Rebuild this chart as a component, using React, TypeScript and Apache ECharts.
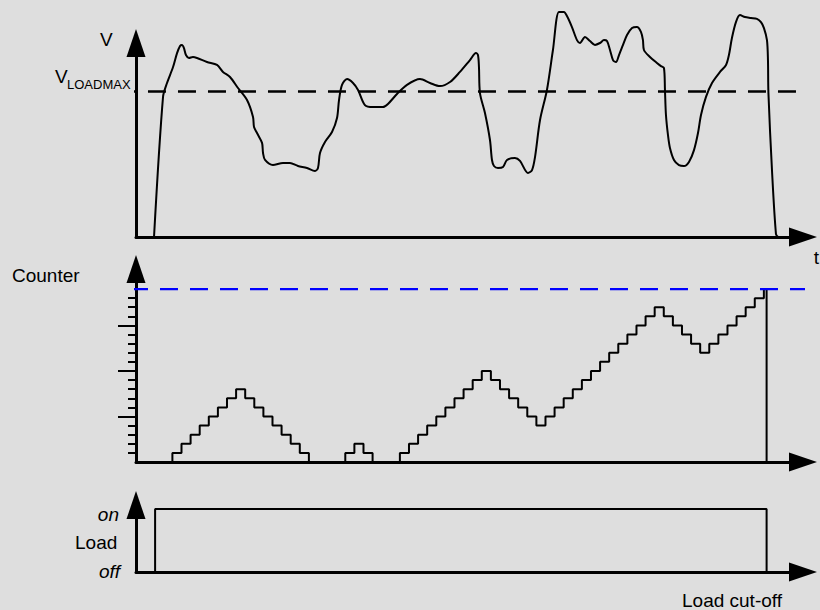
import React, { useEffect, useRef } from "react";
import * as echarts from "echarts";

// ---- data (time in counter-step units, voltage in arbitrary volts) ----
const T_END = 73.3;
const V_AXIS_MAX = 10;
const V_LOADMAX = 7.5;
const COUNTER_AXIS_MAX = 21.2;
const COUNTER_LIMIT = 19;
const LOAD_AXIS_MAX = 1.064;

const voltageTimes = [
  1.98, 2.97, 3.41, 4.07, 4.51, 4.84, 5.05, 5.27, 5.49, 5.82, 6.26, 6.7, 7.8, 8.9, 9.56, 10.33,
  11.21, 12.2, 12.86, 12.97, 13.3, 13.85, 13.96, 14.18, 15.05, 16.15, 16.92, 17.8, 18.79, 19.67,
  20.0, 20.22, 20.77, 21.54, 22.09, 22.31, 22.64, 23.19, 23.85, 24.4, 25.16, 26.04, 27.14, 27.69,
  28.68, 29.78, 31.21, 32.31, 33.41, 34.51, 35.6, 36.7, 37.36, 37.58, 37.69, 37.8, 38.35, 38.9,
  39.12, 39.34, 39.78, 40.33, 40.77, 41.65, 42.2, 43.08, 43.52, 43.85, 44.4, 45.16, 45.82, 46.48,
  47.03, 47.36, 47.91, 48.46, 48.79, 49.34, 49.89, 50.44, 50.99, 51.43, 51.76, 52.09, 52.42, 52.75,
  53.08, 53.52, 53.96, 54.51, 55.05, 55.49, 55.71, 55.82, 56.48, 57.25, 57.69, 58.02, 58.13, 58.24,
  58.46, 58.68, 59.12, 59.67, 60.22, 60.77, 61.32, 61.76, 62.09, 62.64, 63.3, 64.18, 64.84, 65.16,
  65.49, 65.93, 66.37, 66.92, 67.58, 68.24, 68.68, 69.01, 69.34, 69.45, 69.5, 69.89, 70.33, 70.55,
];
const voltageValues = [
  0, 7.22, 7.94, 8.76, 9.48, 9.85, 9.9, 9.74, 9.38, 9.23, 9.28, 9.23, 9.02, 8.87, 8.51, 8.25,
  7.68, 7.06, 6.19, 5.67, 5.36, 4.85, 4.33, 3.97, 3.71, 3.81, 3.81, 3.66, 3.56, 3.4,
  3.56, 4.33, 4.9, 5.41, 6.13, 7.06, 7.84, 8.14, 7.94, 7.58, 6.8, 6.7, 6.7, 6.86,
  7.37, 7.84, 8.14, 7.94, 7.78, 7.99, 8.51, 9.12, 9.48, 9.38, 8.76, 7.42, 6.39, 5.0,
  3.97, 3.66, 3.56, 3.61, 3.97, 4.07, 3.92, 3.3, 3.45, 4.12, 6.03, 7.58, 9.64, 11.6,
  11.6, 11.39, 10.82, 10.15, 10.0, 10.31, 10.1, 9.9, 10.0, 10.15, 10.1, 9.64, 9.12, 9.02,
  9.38, 9.9, 10.41, 10.77, 10.82, 10.57, 10.15, 9.64, 9.28, 8.97, 8.81, 8.71, 7.58, 6.29,
  5.26, 4.59, 3.97, 3.71, 3.66, 3.87, 4.48, 5.36, 6.29, 7.22, 7.94, 8.51, 8.87, 9.38,
  10.26, 11.08, 11.44, 11.34, 11.29, 11.24, 11.08, 10.77, 10.15, 9.12, 7.42, 3.45, 0.15, 0,
];

const counterTimes = [
  0, 4, 5, 6, 7, 8, 9, 10, 11, 12, 13, 14, 15, 16, 17, 18, 19,
  23, 24, 25, 26,
  29, 30, 31, 32, 33, 34, 35, 36, 37, 38, 39, 40, 41, 42, 43, 44,
  45, 46, 47, 48, 49, 50, 51, 52, 53, 54, 55, 56, 57, 58, 59, 60, 61, 62,
  63, 64, 65, 66, 67, 68, 69, 69.3, 73.3,
];
const counterValues = [
  0, 1, 2, 3, 4, 5, 6, 7, 8, 7, 6, 5, 4, 3, 2, 1, 0,
  1, 2, 1, 0,
  1, 2, 3, 4, 5, 6, 7, 8, 9, 10, 9, 8, 7, 6, 5, 4,
  5, 6, 7, 8, 9, 10, 11, 12, 13, 14, 15, 16, 17, 16, 15, 14, 13, 12,
  13, 14, 15, 16, 17, 18, 19, 0, 0,
];
const counterMinorTicks = [1, 2, 3, 4, 5, 6, 7, 8, 9, 10, 11, 12, 13, 14, 15, 16, 17, 18];
const counterMajorTicks = [5, 10, 15];

const loadTimes = [0, 2.1, 69.3, 73.3];
const loadValues = [0, 1, 0, 0];

const thresholdTimes = [-1.98, 74.12];
const limitTimes = [-0.66, 73.96];

const FONT = '"Liberation Sans", Arial, sans-serif';

const zip = (xs: number[], ys: number[]) => xs.map((x, i) => [x, ys[i]]);

export default function App() {
  const ref = useRef<HTMLDivElement>(null);

  useEffect(() => {
    if (!ref.current) return;
    const chart = echarts.init(ref.current, null, { renderer: "svg" });

    const arrowLine = (show = true) => ({
      show,
      symbol: ["none", "triangle"],
      symbolSize: [19, 28],
      lineStyle: { color: "#000", width: 3 },
    });
    const bareX = (gridIndex: number) => ({
      type: "value",
      gridIndex,
      min: 0,
      max: T_END,
      axisLine: arrowLine(),
      axisTick: { show: false },
      axisLabel: { show: false },
      splitLine: { show: false },
    });

    const text = (t: string, x: number, y: number, opts: any = {}) => ({
      type: "text",
      x,
      y,
      silent: true,
      style: {
        text: t,
        fill: "#000",
        font: `${opts.italic ? "italic " : ""}${opts.size || 19}px ${FONT}`,
        textAlign: opts.align || "left",
        textVerticalAlign: "middle",
      },
    });

    chart.setOption({
      animation: false,
      backgroundColor: "#dedede",
      grid: [
        { left: 136, right: 17, top: 43, height: 194 },
        { left: 136, right: 17, top: 269, height: 193 },
        { left: 136, right: 17, top: 505, height: 67 },
      ],
      xAxis: [bareX(0), bareX(1), bareX(2)],
      yAxis: [
        {
          type: "value", gridIndex: 0, min: 0, max: V_AXIS_MAX,
          axisLine: arrowLine(), axisTick: { show: false }, axisLabel: { show: false }, splitLine: { show: false },
        },
        {
          type: "value", gridIndex: 1, min: 0, max: COUNTER_AXIS_MAX, position: "left",
          axisLine: arrowLine(),
          axisTick: { show: true, customValues: counterMinorTicks, length: 8, lineStyle: { color: "#000", width: 2 } },
          axisLabel: { show: false }, splitLine: { show: false },
        },
        {
          type: "value", gridIndex: 1, min: 0, max: COUNTER_AXIS_MAX, position: "left", offset: 0,
          axisLine: { show: false },
          axisTick: { show: true, customValues: counterMajorTicks, length: 18, lineStyle: { color: "#000", width: 2 } },
          axisLabel: { show: false }, splitLine: { show: false },
        },
        {
          type: "value", gridIndex: 2, min: 0, max: LOAD_AXIS_MAX,
          axisLine: arrowLine(), axisTick: { show: false }, axisLabel: { show: false }, splitLine: { show: false },
        },
      ],
      series: [
        {
          type: "line", xAxisIndex: 0, yAxisIndex: 0, clip: false, showSymbol: false, smooth: 0.3,
          data: zip(voltageTimes, voltageValues),
          lineStyle: { color: "#000", width: 2, join: "round" },
        },
        {
          type: "line", xAxisIndex: 0, yAxisIndex: 0, clip: false, showSymbol: false,
          data: thresholdTimes.map((t) => [t, V_LOADMAX]),
          lineStyle: { color: "#000", width: 2.5, type: [18, 12] },
        },
        {
          type: "line", xAxisIndex: 1, yAxisIndex: 1, clip: false, showSymbol: false, step: "end",
          data: zip(counterTimes, counterValues),
          lineStyle: { color: "#000", width: 2 },
        },
        {
          type: "line", xAxisIndex: 1, yAxisIndex: 1, clip: false, showSymbol: false,
          data: limitTimes.map((t) => [t, COUNTER_LIMIT]),
          lineStyle: { color: "#0000ff", width: 2.2, type: [18, 12] },
        },
        {
          type: "line", xAxisIndex: 2, yAxisIndex: 3, clip: false, showSymbol: false, step: "end",
          data: zip(loadTimes, loadValues),
          lineStyle: { color: "#000", width: 2 },
        },
      ],
      graphic: [
        text("V", 100, 39),
        text("V", 55, 76),
        text("LOADMAX", 67, 84, { size: 13 }),
        text("t", 819, 257, { align: "right" }),
        text("Counter", 12, 275),
        text("on", 119, 514, { italic: true, align: "right" }),
        text("Load", 75, 542),
        text("off", 120, 571, { italic: true, align: "right" }),
        text("Load cut-off", 682, 600),
      ],
    });

    return () => chart.dispose();
  }, []);

  return (
    <div
      ref={ref}
      style={{ position: "absolute", left: 0, top: 0, width: 820, height: 610, background: "#dedede" }}
    />
  );
}
